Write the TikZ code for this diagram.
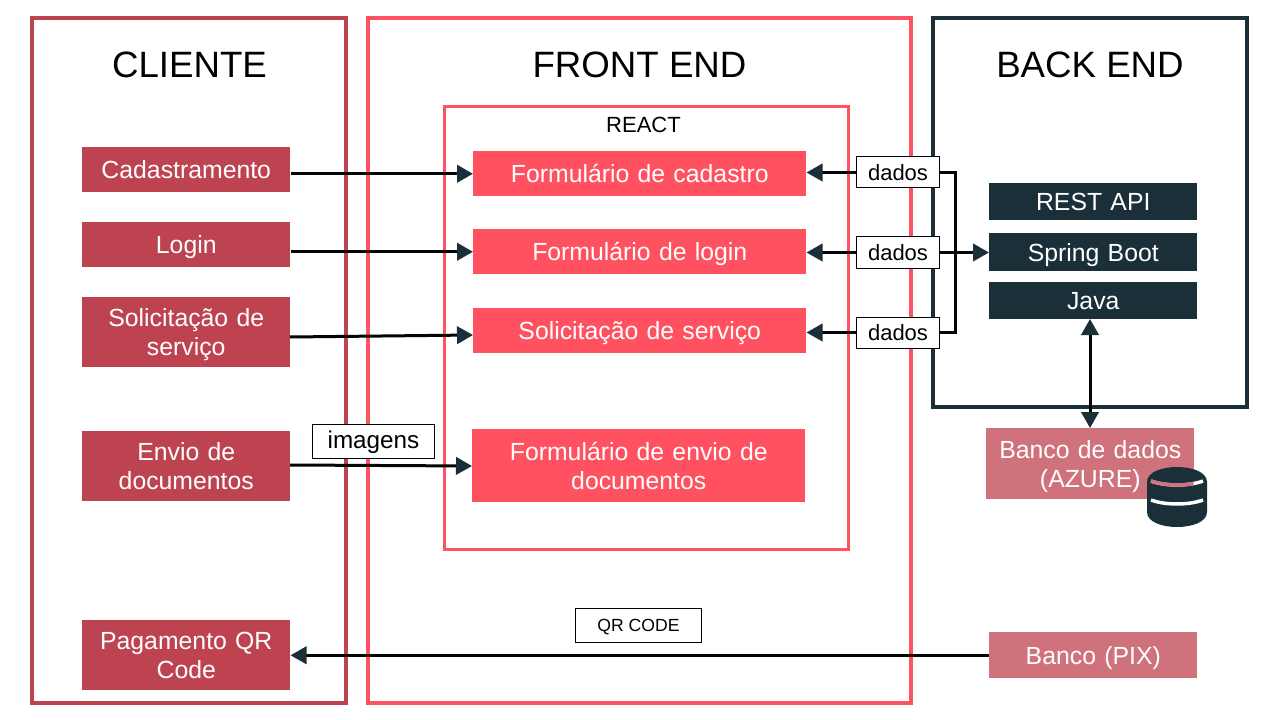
\documentclass[tikz,border=0pt]{standalone}
\usepackage{fontspec}
\setmainfont{Liberation Sans}
\usetikzlibrary{arrows.meta,calc}
\definecolor{cli}{HTML}{BE4351}
\definecolor{fro}{HTML}{FF5160}
\definecolor{bak}{HTML}{1B2F38}
\definecolor{ban}{HTML}{CF727C}
\newcommand{\st}{\vrule height 17pt depth 3.8pt width 0pt\relax}
\newcommand{\sta}{\vrule height 17pt depth 3.8pt width 0pt\relax}
\newcommand{\stt}{\vrule height 14pt depth 3.6pt width 0pt\relax}
\tikzset{
  x=0.75pt,y=-0.75pt,
  panel/.style={draw=#1,line width=3pt,fill=none},
  reactbox/.style={draw=fro,line width=2.25pt,fill=none},
  title/.style={font=\fontsize{27.5}{32}\selectfont,text=black,anchor=center,inner sep=0},
  box/.style={fill=#1,text=white,font=\fontsize{18.6}{21.75}\selectfont,align=center,inner sep=0,anchor=north west},
  tag/.style={draw=black,line width=0.75pt,fill=white,text=black,inner sep=0,anchor=north west},
  conn/.style={draw=black!90!bak,line width=2.25pt},
  head/.style={-{Triangle[length=12pt,width=13pt,color=bak,fill=bak]}},
  both/.style={{Triangle[length=12pt,width=13pt,color=bak,fill=bak]}-{Triangle[length=12pt,width=13pt,color=bak,fill=bak]}},
}
\newcommand{\bx}[7]{\node[box=#1,minimum width=#4*0.75pt,minimum height=#5*0.75pt,text width=#4*0.75pt] (#2) at (#3,#6) {#7};}
\begin{document}
\begin{tikzpicture}
\useasboundingbox (0,0) rectangle (1280,720);
\fill[white] (0,0) rectangle (1280,720);
% panels
\draw[panel=cli] (32,18) rectangle (346,703);
\draw[panel=fro] (368,18) rectangle (911,703);
\draw[panel=bak] (933,18) rectangle (1247,407);
\draw[reactbox] (444,107) rectangle (848.5,549);
\node[title] (tcli) at (189.5,65) {CLIENTE};
\node[title] (tfro) at (639.5,65) {FRONT END};
\node[title] (tbak) at (1090,65) {BACK END};
\node[font=\fontsize{16.5}{20}\selectfont,inner sep=0] (treact) at (643.5,125) {REACT};
% client
\bx{cli}{cad}{82}{208}{45}{147}{\st Cadastramento}
\bx{cli}{log}{82}{208}{45}{222}{\st Login}
\bx{cli}{sol}{82}{208}{70}{297}{\sta Solicitação de\\\st serviço}
\bx{cli}{env}{82}{208}{70}{431}{\sta Envio de\\\st documentos}
\bx{cli}{pag}{82}{208}{70}{620}{\sta Pagamento QR\\\st Code}
% front
\bx{fro}{f1}{473}{333}{45}{151}{\st Formulário de cadastro}
\bx{fro}{f2}{473}{333}{45}{229}{\st Formulário de login}
\bx{fro}{f3}{473}{333}{45}{308}{\st Solicitação de serviço}
\bx{fro}{f4}{472}{333}{73}{429}{\sta Formulário de envio de\\\st documentos}
% back
\bx{bak}{rest}{989}{208}{37}{183}{\st REST API}
\bx{bak}{spring}{989}{208}{38}{233}{\st Spring Boot}
\bx{bak}{java}{989}{208}{37}{282}{\st Java}
\bx{ban}{azure}{986}{208}{71}{428}{\sta Banco de dados\\\st (AZURE)}
\bx{ban}{pix}{989}{208}{46}{632}{\st Banco (PIX)}
% connectors under tags
\coordinate (solout) at (290,337);
\coordinate (f3in) at (473,335);
\coordinate (envout) at (290,465);
\coordinate (f4in) at (472,466);
\coordinate (jn) at (955,252);
\draw[conn,head] (cad.east |- f1.west) -- (f1.west);
\draw[conn,head] (log.east |- f2.west) -- (f2.west);
\draw[conn,head] (solout) -- (f3in);
\draw[conn,head] (envout) -- (f4in);
\draw[conn,head] (pix.west) -- (pag.east |- pix.west);
% tags
\node[tag,minimum width=83*0.75pt,minimum height=31*0.75pt,font=\fontsize{16.5}{19}\selectfont] (d1) at (856,156.5) {dados};
\node[tag,minimum width=83*0.75pt,minimum height=31*0.75pt,font=\fontsize{16.5}{19}\selectfont] (d2) at (856,236.5) {dados};
\node[tag,minimum width=83*0.75pt,minimum height=31*0.75pt,font=\fontsize{16.5}{19}\selectfont] (d3) at (856,316.5) {dados};
\node[tag,minimum width=122*0.75pt,minimum height=34*0.75pt,font=\fontsize{18.2}{20}\selectfont] (img) at (312,424) {\stt imagens};
\node[tag,minimum width=126*0.75pt,minimum height=34*0.75pt,font=\fontsize{13.2}{16}\selectfont] (qr) at (575,608) {\vrule height 12pt depth 2.3pt width 0pt\relax QR CODE};
\draw[conn,head] (d1.west) -- (f1.east |- d1.west);
\draw[conn,head] (d2.west) -- (f2.east |- d2.west);
\draw[conn,head] (d3.west) -- (f3.east |- d3.west);
\draw[conn] (d1.east) -| (jn) |- (d3.east);
\draw[conn,head] (d2.east) -- (spring.west |- d2.east);
\coordinate (jb) at (1090,319);
\coordinate (ja) at (1090,428);
\draw[conn,both] (jb) -- (ja);
% database icon
\begin{scope}
\fill[bak] (1147,482) .. controls (1147,462) and (1207,462) .. (1207,482)
  -- (1207,512) .. controls (1207,532) and (1147,532) .. (1147,512) -- cycle;
\draw[white,line width=2.6pt] (1151,481) .. controls (1165,486.3) and (1189,486.3) .. (1203,481);
\draw[ban,line width=2.6pt] (1151,481) .. controls (1162.2,485.24) and (1179.8,486.09) .. (1193.5,483.6);
\draw[white,line width=2.6pt] (1151,500) .. controls (1165,505.3) and (1189,505.3) .. (1203,500);
\end{scope}
\end{tikzpicture}
\end{document}
